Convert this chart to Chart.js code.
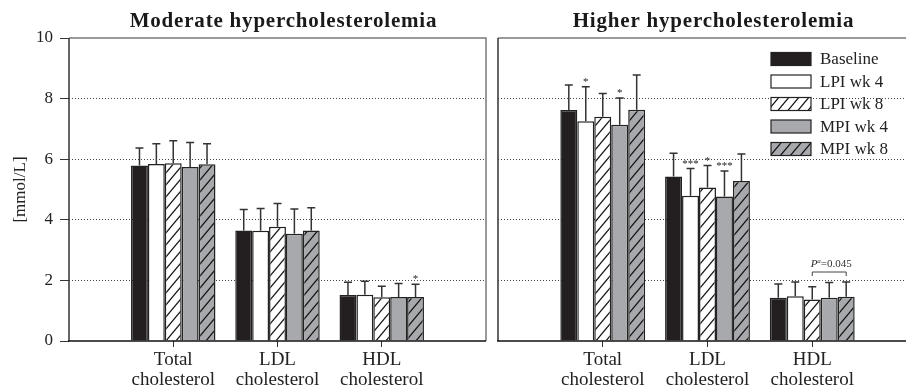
<!DOCTYPE html>
<html>
<head>
<meta charset="utf-8">
<script src="https://cdn.jsdelivr.net/npm/chart.js@4.4.0/dist/chart.umd.min.js"></script>
<style>
  html, body { margin: 0; padding: 0; background: #fff; overflow: hidden; }
  body { width: 906px; height: 392px; position: relative; }
  #left { position: absolute; left: 0; top: 0; }
  #right { position: absolute; left: 490px; top: 0; }
</style>
</head>
<body>
<canvas id="left" width="490" height="392"></canvas>
<canvas id="right" width="440" height="392"></canvas>
<script>
var categories = [['Total', 'cholesterol'], ['LDL', 'cholesterol'], ['HDL', 'cholesterol']];
var seriesNames = ['Baseline', 'LPI wk 4', 'LPI wk 8', 'MPI wk 4', 'MPI wk 8'];
var panelTitles = ['Moderate hypercholesterolemia', 'Higher hypercholesterolemia'];

// moderate hypercholesterolemia: means, then mean + SD (top of error bar)
var modBaseline = [5.79, 3.65, 1.52];
var modLpi4 = [5.84, 3.64, 1.53];
var modLpi8 = [5.87, 3.77, 1.44];
var modMpi4 = [5.74, 3.54, 1.45];
var modMpi8 = [5.83, 3.65, 1.45];
var modBaselineErr = [6.37, 4.34, 1.94];
var modLpi4Err = [6.51, 4.37, 1.97];
var modLpi8Err = [6.61, 4.54, 1.81];
var modMpi4Err = [6.55, 4.36, 1.90];
var modMpi8Err = [6.51, 4.40, 1.87];

// higher hypercholesterolemia
var highBaseline = [7.62, 5.43, 1.43];
var highLpi4 = [7.25, 4.79, 1.48];
var highLpi8 = [7.40, 5.07, 1.37];
var highMpi4 = [7.14, 4.77, 1.43];
var highMpi8 = [7.63, 5.28, 1.46];
var highBaselineErr = [8.45, 6.20, 1.88];
var highLpi4Err = [8.39, 5.69, 1.95];
var highLpi8Err = [8.17, 5.79, 1.79];
var highMpi4Err = [8.02, 5.61, 1.93];
var highMpi8Err = [8.78, 6.17, 1.95];

// significance marks: series index, category index, text
var modStars = [[4, 2, '*']];
var highStars = [[1, 0, '*'], [3, 0, '*'], [1, 1, '***'], [2, 1, '*'], [3, 1, '***']];

var yMin = 0, yMax = 10, yStep = 2;
var serif = "'Liberation Serif', 'Times New Roman', serif";
Chart.defaults.font.family = serif;
Chart.defaults.color = '#222';

var black = '#231f20';
var gray = '#a7a9ac';

function hatch(base) {
  var c = document.createElement('canvas');
  c.width = 10; c.height = 12;
  var g = c.getContext('2d');
  g.fillStyle = base;
  g.fillRect(0, 0, 10, 12);
  g.strokeStyle = '#111';
  g.lineWidth = 1.2;
  [-10, 0, 10].forEach(function (dx) {
    g.beginPath();
    g.moveTo(dx - 1, 13.2);
    g.lineTo(dx + 11, -1.2);
    g.stroke();
  });
  return document.createElement('canvas').getContext('2d').createPattern(c, 'repeat');
}
var fills = [black, '#ffffff', hatch('#ffffff'), gray, hatch(gray)];

// x axis: empty slots at both ends so the three groups sit at 1/4, 2/4, 3/4
var xLabels = [''].concat(categories, ['']);
function pad(a) { return [null].concat(a, [null]); }

var errorBars = {
  id: 'errorBars',
  afterDatasetsDraw: function (chart) {
    var ctx = chart.ctx, y = chart.scales.y;
    ctx.save();
    ctx.strokeStyle = '#333';
    ctx.lineWidth = 1.5;
    chart.data.datasets.forEach(function (ds, i) {
      var meta = chart.getDatasetMeta(i);
      meta.data.forEach(function (bar, j) {
        var e = ds.errTops[j];
        if (e == null) return;
        var py = y.getPixelForValue(e);
        ctx.beginPath();
        ctx.moveTo(bar.x, bar.y);
        ctx.lineTo(bar.x, py);
        ctx.moveTo(bar.x - 4, py);
        ctx.lineTo(bar.x + 4, py);
        ctx.stroke();
      });
    });
    var stars = chart.options.plugins.errorBars.stars || [];
    ctx.fillStyle = '#222';
    ctx.font = '11px ' + serif;
    ctx.textAlign = 'center';
    ctx.textBaseline = 'alphabetic';
    stars.forEach(function (s) {
      var bar = chart.getDatasetMeta(s[0]).data[s[1] + 1];
      var py = y.getPixelForValue(chart.data.datasets[s[0]].errTops[s[1] + 1]);
      ctx.fillText(s[2], bar.x, py - 2);
    });
    ctx.restore();
  }
};

var frame = {
  id: 'frame',
  afterDraw: function (chart) {
    var a = chart.chartArea, ctx = chart.ctx;
    ctx.save();
    ctx.lineWidth = 1.5;
    ctx.strokeStyle = '#7a7a7a';
    ctx.beginPath();
    ctx.moveTo(a.left, a.top);
    ctx.lineTo(a.right, a.top);
    ctx.lineTo(a.right, a.bottom);
    ctx.stroke();
    ctx.strokeStyle = '#333';
    ctx.beginPath();
    ctx.moveTo(a.left, a.top);
    ctx.lineTo(a.left, a.bottom);
    ctx.stroke();
    ctx.strokeStyle = '#111';
    ctx.beginPath();
    ctx.moveTo(a.left - 1, a.bottom);
    ctx.lineTo(a.right, a.bottom);
    ctx.stroke();
    // panel title
    ctx.fillStyle = '#1a1a1a';
    ctx.font = 'bold 21px ' + serif;
    ctx.letterSpacing = '0.8px';
    ctx.textAlign = 'center';
    ctx.textBaseline = 'alphabetic';
    ctx.fillText(chart.options.plugins.frame.title, (a.left + a.right) / 2 + 6, 27);
    ctx.restore();
  }
};

var boxLegend = {
  id: 'boxLegend',
  afterDraw: function (chart) {
    if (!chart.options.plugins.boxLegend.show) return;
    var a = chart.chartArea, ctx = chart.ctx;
    ctx.save();
    ctx.font = '17px ' + serif;
    ctx.textBaseline = 'middle';
    ctx.textAlign = 'left';
    chart.data.datasets.forEach(function (ds, i) {
      var x = a.right - 146, cy = 59 + i * 22.5;
      ctx.fillStyle = ds.backgroundColor;
      ctx.fillRect(x, cy - 6.5, 40, 13);
      ctx.strokeStyle = '#222';
      ctx.lineWidth = 1.2;
      ctx.strokeRect(x, cy - 6.5, 40, 13);
      ctx.fillStyle = '#222';
      ctx.fillText(ds.label, x + 49, cy + 1);
    });
    ctx.restore();
  }
};

var pNote = {
  id: 'pNote',
  afterDraw: function (chart) {
    if (!chart.options.plugins.pNote.show) return;
    var ctx = chart.ctx;
    var x1 = chart.getDatasetMeta(2).data[3].x;
    var x2 = chart.getDatasetMeta(4).data[3].x;
    var yb = 272;
    ctx.save();
    ctx.strokeStyle = '#444';
    ctx.lineWidth = 1;
    ctx.beginPath();
    ctx.moveTo(x1, yb + 4);
    ctx.lineTo(x1, yb);
    ctx.lineTo(x2, yb);
    ctx.lineTo(x2, yb + 4);
    ctx.stroke();
    ctx.fillStyle = '#333';
    ctx.textBaseline = 'alphabetic';
    ctx.textAlign = 'left';
    var cx = (x1 + x2) / 2 + 2;
    ctx.font = '11px ' + serif;
    var rest = '=0.045';
    var wr = ctx.measureText(rest).width;
    ctx.font = 'italic 11px ' + serif;
    var wp = ctx.measureText('P').width;
    ctx.font = 'italic 7px ' + serif;
    var wa = ctx.measureText('a').width;
    var sx = cx - (wp + wa + wr) / 2;
    ctx.font = 'italic 11px ' + serif;
    ctx.fillText('P', sx, 267);
    ctx.font = 'italic 7px ' + serif;
    ctx.fillText('a', sx + wp, 263);
    ctx.font = '11px ' + serif;
    ctx.fillText(rest, sx + wp + wa, 267);
    ctx.restore();
  }
};

function makeChart(id, values, errs, stars, isLeft) {
  var datasets = seriesNames.map(function (name, i) {
    return {
      label: name,
      data: pad(values[i]),
      errTops: pad(errs[i]),
      backgroundColor: fills[i],
      borderColor: '#222',
      borderWidth: 1.5,
      borderSkipped: 'start',
      categoryPercentage: 0.81,
      barPercentage: 1
    };
  });
  return new Chart(document.getElementById(id), {
    type: 'bar',
    data: { labels: xLabels, datasets: datasets },
    options: {
      responsive: false,
      animation: false,
      layout: { padding: isLeft ? { top: 38, right: 4, left: 0, bottom: 0 } : { top: 38, right: 13, left: 8, bottom: 0 } },
      plugins: {
        legend: { display: false },
        tooltip: { enabled: false },
        errorBars: { stars: stars },
        frame: { title: isLeft ? panelTitles[0] : panelTitles[1] },
        boxLegend: { show: !isLeft },
        pNote: { show: !isLeft }
      },
      scales: {
        x: {
          offset: false,
          border: { display: false },
          grid: {
            offset: false,
            drawOnChartArea: false,
            drawTicks: true,
            tickLength: 6,
            tickWidth: 1,
            tickColor: function (c) { return (c.index === 0 || c.index === xLabels.length - 1) ? 'rgba(0,0,0,0)' : '#333'; }
          },
          ticks: { autoSkip: false, maxRotation: 0, padding: 3, color: '#222', font: { size: 19, lineHeight: 1.05 } },
          afterFit: function (s) { s.height = 51; }
        },
        y: {
          min: yMin, max: yMax,
          border: { display: false, dash: [1, 2] },
          grid: {
            color: function (c) { return (c.tick.value === yMin || c.tick.value === yMax) ? 'rgba(0,0,0,0)' : '#444'; },
            lineWidth: 1,
            borderDash: [1, 2],
            drawTicks: isLeft,
            tickLength: isLeft ? 9 : 0,
            tickColor: '#333',
            tickWidth: 1,
            tickBorderDash: []
          },
          ticks: { display: isLeft, stepSize: yStep, padding: 7, color: '#222', font: { size: 17 } },
          title: { display: isLeft, text: '[mmol/L]', color: '#222', font: { size: 17 }, padding: { top: 10, bottom: 0 } },
          afterFit: function (s) { s.width = isLeft ? 69 : 0; }
        }
      }
    },
    plugins: [errorBars, frame, boxLegend, pNote]
  });
}

makeChart('left',
  [modBaseline, modLpi4, modLpi8, modMpi4, modMpi8],
  [modBaselineErr, modLpi4Err, modLpi8Err, modMpi4Err, modMpi8Err],
  modStars, true);
makeChart('right',
  [highBaseline, highLpi4, highLpi8, highMpi4, highMpi8],
  [highBaselineErr, highLpi4Err, highLpi8Err, highMpi4Err, highMpi8Err],
  highStars, false);
</script>
</body>
</html>
